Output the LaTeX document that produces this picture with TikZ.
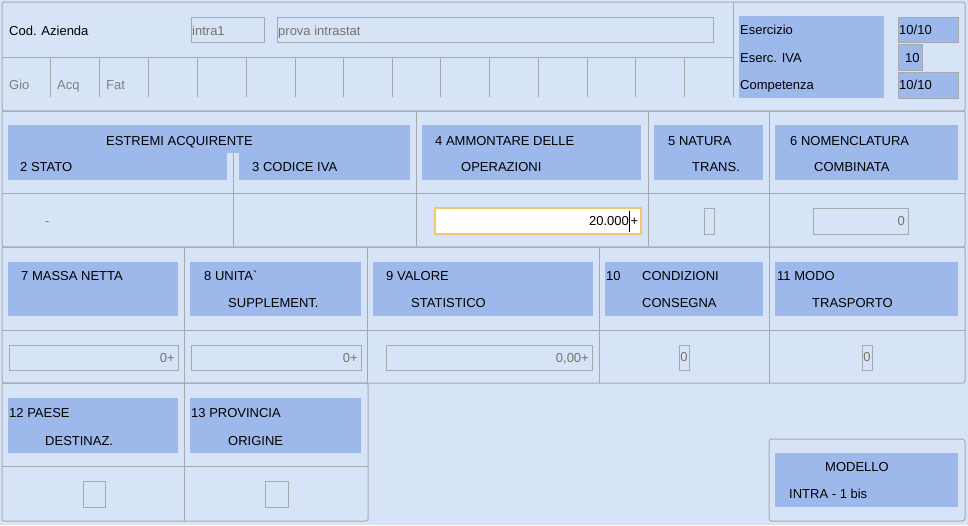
\documentclass[tikz,border=0pt]{standalone}
\usepackage{fontspec}
\setmainfont{Liberation Sans}[Ligatures=TeXOff]
\definecolor{bgc}{HTML}{D7E4F7}
\definecolor{bluec}{HTML}{9DB9EB}
\definecolor{linec}{HTML}{A6AAAF}
\definecolor{orangec}{HTML}{F3C772}
\definecolor{gtext}{HTML}{7F7F7F}
\definecolor{ftext}{HTML}{7A7068}
\begin{document}
\begin{tikzpicture}[x=1pt,y=-1pt,
  every node/.style={inner sep=0pt, font=\fontsize{13}{15}\selectfont},
  lbl/.style={anchor=base west},
  lblr/.style={anchor=base east},
  gridl/.style={draw=linec, line width=1pt},
  panel/.style={draw=linec, line width=1pt, rounded corners=2pt},
  field/.style={draw=linec, line width=1pt},
  hdr/.style={fill=bluec},
  ftxt/.style={text=ftext}]
\useasboundingbox (0,0) rectangle (968,525);
\fill[bgc] (0,0) rectangle (968,525);

% ---------- section 1 ----------
\draw[panel] (2,2) rectangle (965,111);
\draw[gridl] (2,57) -- (733,57);
\draw[gridl] (733,2) -- (733,97);
\foreach \x in {50,99,148,197,246,295,343,392,440,489,538,587,635,684}
  \draw[gridl] (\x,57) -- (\x,97);
\node[lbl] (codaz) at (9,35) {Cod. Azienda};
\draw[field] (191,17) rectangle (264,42);
\node[lbl,ftxt] (intra) at (192,35) {intra1};
\draw[field] (277,17) rectangle (713,42);
\node[lbl,ftxt] (prova) at (278,35) {prova intrastat};
\node[lbl,text=gtext] (gio) at (9,89) {Gio};
\node[lbl,text=gtext] (acq) at (57,89) {Acq};
\node[lbl,text=gtext] (fat) at (106,89) {Fat};

\fill[hdr] (739,16) rectangle (884,98);
\node[lbl] (eser) at (740,34) {Esercizio};
\node[lbl] (esiva) at (740,62) {Eserc. IVA};
\node[lbl] (comp) at (740,89) {Competenza};
\draw[field,fill=bluec] (898,17) rectangle (958,42);
\draw[field,fill=bluec] (898,44) rectangle (922,70);
\draw[field,fill=bluec] (898,72) rectangle (958,98);
\node[lbl] (v1) at (899,34) {10/10};
\node[lbl] (v2) at (905,62) {10};
\node[lbl] (v3) at (899,89) {10/10};

% ---------- section 2 ----------
\draw[panel] (2,111) rectangle (965,247);
\draw[gridl] (2,193) -- (965,193);
\draw[gridl] (416,111) -- (416,247);
\draw[gridl] (648,111) -- (648,247);
\draw[gridl] (769,111) -- (769,247);
\fill[hdr] (8,125) rectangle (410,180);
\fill[bgc] (227,153) rectangle (239,181);
\draw[gridl] (233,153) -- (233,247);
\node[lbl] (estremi) at (106,145) {ESTREMI ACQUIRENTE};
\node[lbl] (stato) at (20,171) {2 STATO};
\node[lbl] (codiva) at (252,171) {3 CODICE IVA};
\fill[hdr] (422,125) rectangle (641,180);
\node[lbl] (amm1) at (435,145) {4 AMMONTARE DELLE};
\node[lbl] (amm2) at (461,171) {OPERAZIONI};
\fill[hdr] (654,125) rectangle (763,180);
\node[lbl] (nat1) at (668,145) {5 NATURA};
\node[lbl] (nat2) at (692,171) {TRANS.};
\fill[hdr] (775,125) rectangle (958,180);
\node[lbl] (nom1) at (790,145) {6 NOMENCLATURA};
\node[lbl] (nom2) at (814,171) {COMBINATA};

\node[lbl,text=gtext] (dash) at (45,225) {-};
\draw[draw=orangec, line width=1.6pt, fill=white] (435,208) rectangle (641,234);
\node[lblr] (amt) at (629,225) {20.000};
\draw[black, line width=0.9pt] (629.8,211) -- (629.8,232);
\node[lbl] (amtp) at (630.5,225) {+};
\draw[field] (704,208) rectangle (714,234);
\draw[field] (813,208) rectangle (908,234);
\node[lblr,ftxt] (nomv) at (905,225) {0};

% ---------- section 3 ----------
\draw[panel] (2,247) rectangle (965,383);
\draw[gridl] (2,330) -- (965,330);
\foreach \x in {184,367,599,769}
  \draw[gridl] (\x,247) -- (\x,383);
\fill[hdr] (8,262) rectangle (178,316);
\node[lbl] (massa) at (21,280) {7 MASSA NETTA};
\fill[hdr] (190,262) rectangle (361,316);
\node[lbl] (uni1) at (204,280) {8 UNITA`};
\node[lbl] (uni2) at (228,307) {SUPPLEMENT.};
\fill[hdr] (373,262) rectangle (593,316);
\node[lbl] (val1) at (386,280) {9 VALORE};
\node[lbl] (val2) at (411,307) {STATISTICO};
\fill[hdr] (605,262) rectangle (763,316);
\node[lbl] (con0) at (606,280) {10};
\node[lbl] (con1) at (642,280) {CONDIZIONI};
\node[lbl] (con2) at (642,307) {CONSEGNA};
\fill[hdr] (775,262) rectangle (958,316);
\node[lbl] (mod1) at (777,280) {11 MODO};
\node[lbl] (mod2) at (812,307) {TRASPORTO};

\draw[field] (9,345) rectangle (178,370);
\node[lblr,ftxt] (mv) at (175,362) {0+};
\draw[field] (191,345) rectangle (361,370);
\node[lblr,ftxt] (uv) at (358,362) {0+};
\draw[field] (386,345) rectangle (592,370);
\node[lblr,ftxt] (vv) at (589,362) {0,00+};
\draw[field] (679,345) rectangle (689,370);
\node[ftxt] (cv) at (684,357.5) {0};
\draw[field] (862,345) rectangle (872,370);
\node[ftxt] (tv) at (867,357.5) {0};

% ---------- section 4 ----------
\draw[panel] (2,383) rectangle (368,521);
\draw[gridl] (2,466) -- (368,466);
\draw[gridl] (184,383) -- (184,521);
\fill[hdr] (8,398) rectangle (178,453);
\node[lbl] (pae1) at (9,417) {12 PAESE};
\node[lbl] (pae2) at (45,445) {DESTINAZ.};
\fill[hdr] (190,398) rectangle (361,453);
\node[lbl] (pro1) at (191,417) {13 PROVINCIA};
\node[lbl] (pro2) at (228,445) {ORIGINE};
\draw[field] (83,481) rectangle (105,507);
\draw[field] (265,481) rectangle (288,507);

% ---------- modello ----------
\draw[panel,rounded corners=3pt] (769,439) rectangle (965,521);
\fill[hdr] (775,453) rectangle (958,507);
\node[lbl] (modello) at (825,471) {MODELLO};
\node[lbl] (intra1bis) at (789,498) {INTRA - 1 bis};
\end{tikzpicture}
\end{document}
